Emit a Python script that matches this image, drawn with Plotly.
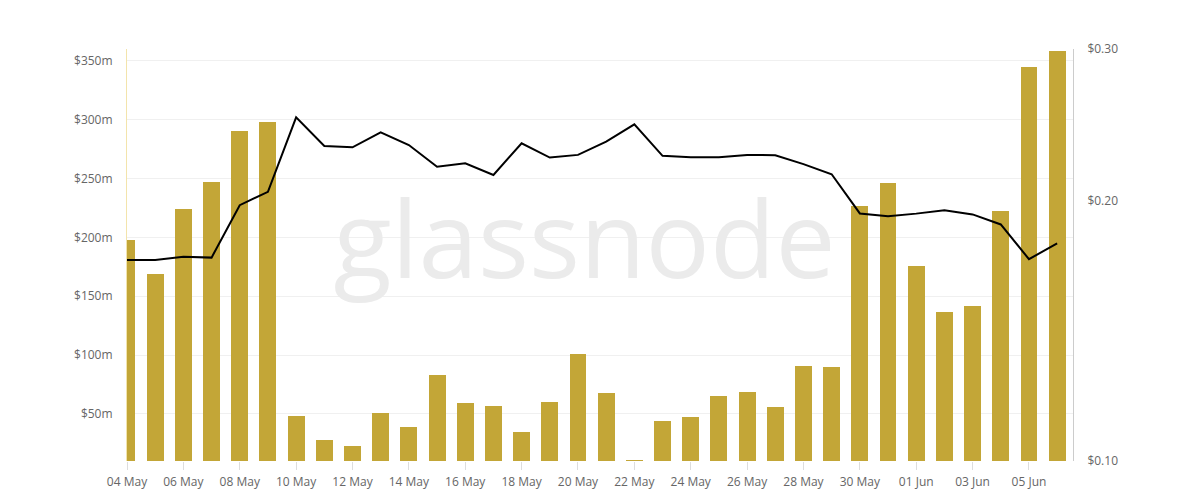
import plotly.graph_objects as go
import pandas as pd

dates = pd.date_range("2022-05-04", "2022-06-06", freq="D")

# Daily volume in $ millions (bars, left axis)
volume_m = [198, 169, 224, 247, 290, 298, 48, 28, 23, 51, 39, 83, 59, 57, 35, 60,
            101, 68, 10.5, 44, 47, 65, 69, 56, 91, 90, 227, 246, 176, 137, 142, 222,
            345, 358]

# Price in $ (line, right log axis)
price = [0.1709, 0.1709, 0.1724, 0.1720, 0.1978, 0.2050, 0.2500, 0.2316, 0.2308,
         0.2402, 0.2322, 0.2192, 0.2212, 0.2144, 0.2333, 0.2246, 0.2262, 0.2343,
         0.2454, 0.2256, 0.2248, 0.2248, 0.2262, 0.2260, 0.2207, 0.2148, 0.1935,
         0.1921, 0.1934, 0.1952, 0.1930, 0.1879, 0.1713, 0.1786]

left_ticks = [50, 100, 150, 200, 250, 300, 350]
left_labels = ["$50m", "$100m", "$150m", "$200m", "$250m", "$300m", "$350m"]
right_ticks = [0.1, 0.2, 0.3]
right_labels = ["$0.10", "$0.20", "$0.30"]

font_fam = "Open Sans, Noto Sans, sans-serif"
tick_font = dict(family=font_fam, size=12, color="#666666")

fig = go.Figure()

# Watermark on hidden base axis (drawn beneath bars)
fig.add_trace(go.Scatter(
    x=[pd.Timestamp("2022-05-20 05:30")], y=[0.508], mode="text", text=["glassnode"],
    textfont=dict(family="Open Sans, sans-serif", size=107, color="#ebebeb"),
    textposition="middle center", hoverinfo="skip", showlegend=False,
    xaxis="x", yaxis="y"))

fig.add_trace(go.Bar(
    x=dates, y=volume_m, marker=dict(color="#c3a637", line=dict(width=0)),
    width=0.6 * 86400000, showlegend=False, xaxis="x", yaxis="y2"))

fig.add_trace(go.Scatter(
    x=dates, y=price, mode="lines", line=dict(color="#000000", width=2),
    showlegend=False, xaxis="x", yaxis="y3"))

fig.update_layout(
    width=1184, height=484,
    margin=dict(l=119, r=119, t=41, b=31),
    paper_bgcolor="white", plot_bgcolor="white",
    bargap=0,
    xaxis=dict(
        type="date", automargin=False,
        range=["2022-05-04 00:00", "2022-06-06 13:30"],
        tick0="2022-05-04", dtick=2 * 86400000, tickformat="%d %b",
        ticks="outside", ticklen=8, tickcolor="#dddddd",
        ticklabelstandoff=2,
        showgrid=False, showline=False, zeroline=False,
        tickfont=tick_font,
    ),
    yaxis=dict(range=[0, 1], visible=False, showgrid=False, zeroline=False,
               automargin=False),
    yaxis2=dict(
        overlaying="y", side="left", range=[10, 360], automargin=False,
        tickvals=left_ticks, ticktext=left_labels,
        showgrid=True, gridcolor="#f0f0f0", gridwidth=1,
        showline=True, linecolor="#f3e4ac", linewidth=1,
        zeroline=False, ticks="", tickfont=tick_font, ticklabelstandoff=11,
    ),
    yaxis3=dict(
        overlaying="y", side="right", type="log", automargin=False,
        range=[-1, -0.5229],
        tickvals=right_ticks, ticktext=right_labels,
        showgrid=False, showline=True, linecolor="#cccccc", linewidth=1,
        zeroline=False, ticks="", tickfont=tick_font, ticklabelstandoff=11,
    ),
)

fig.write_html("out.html")
